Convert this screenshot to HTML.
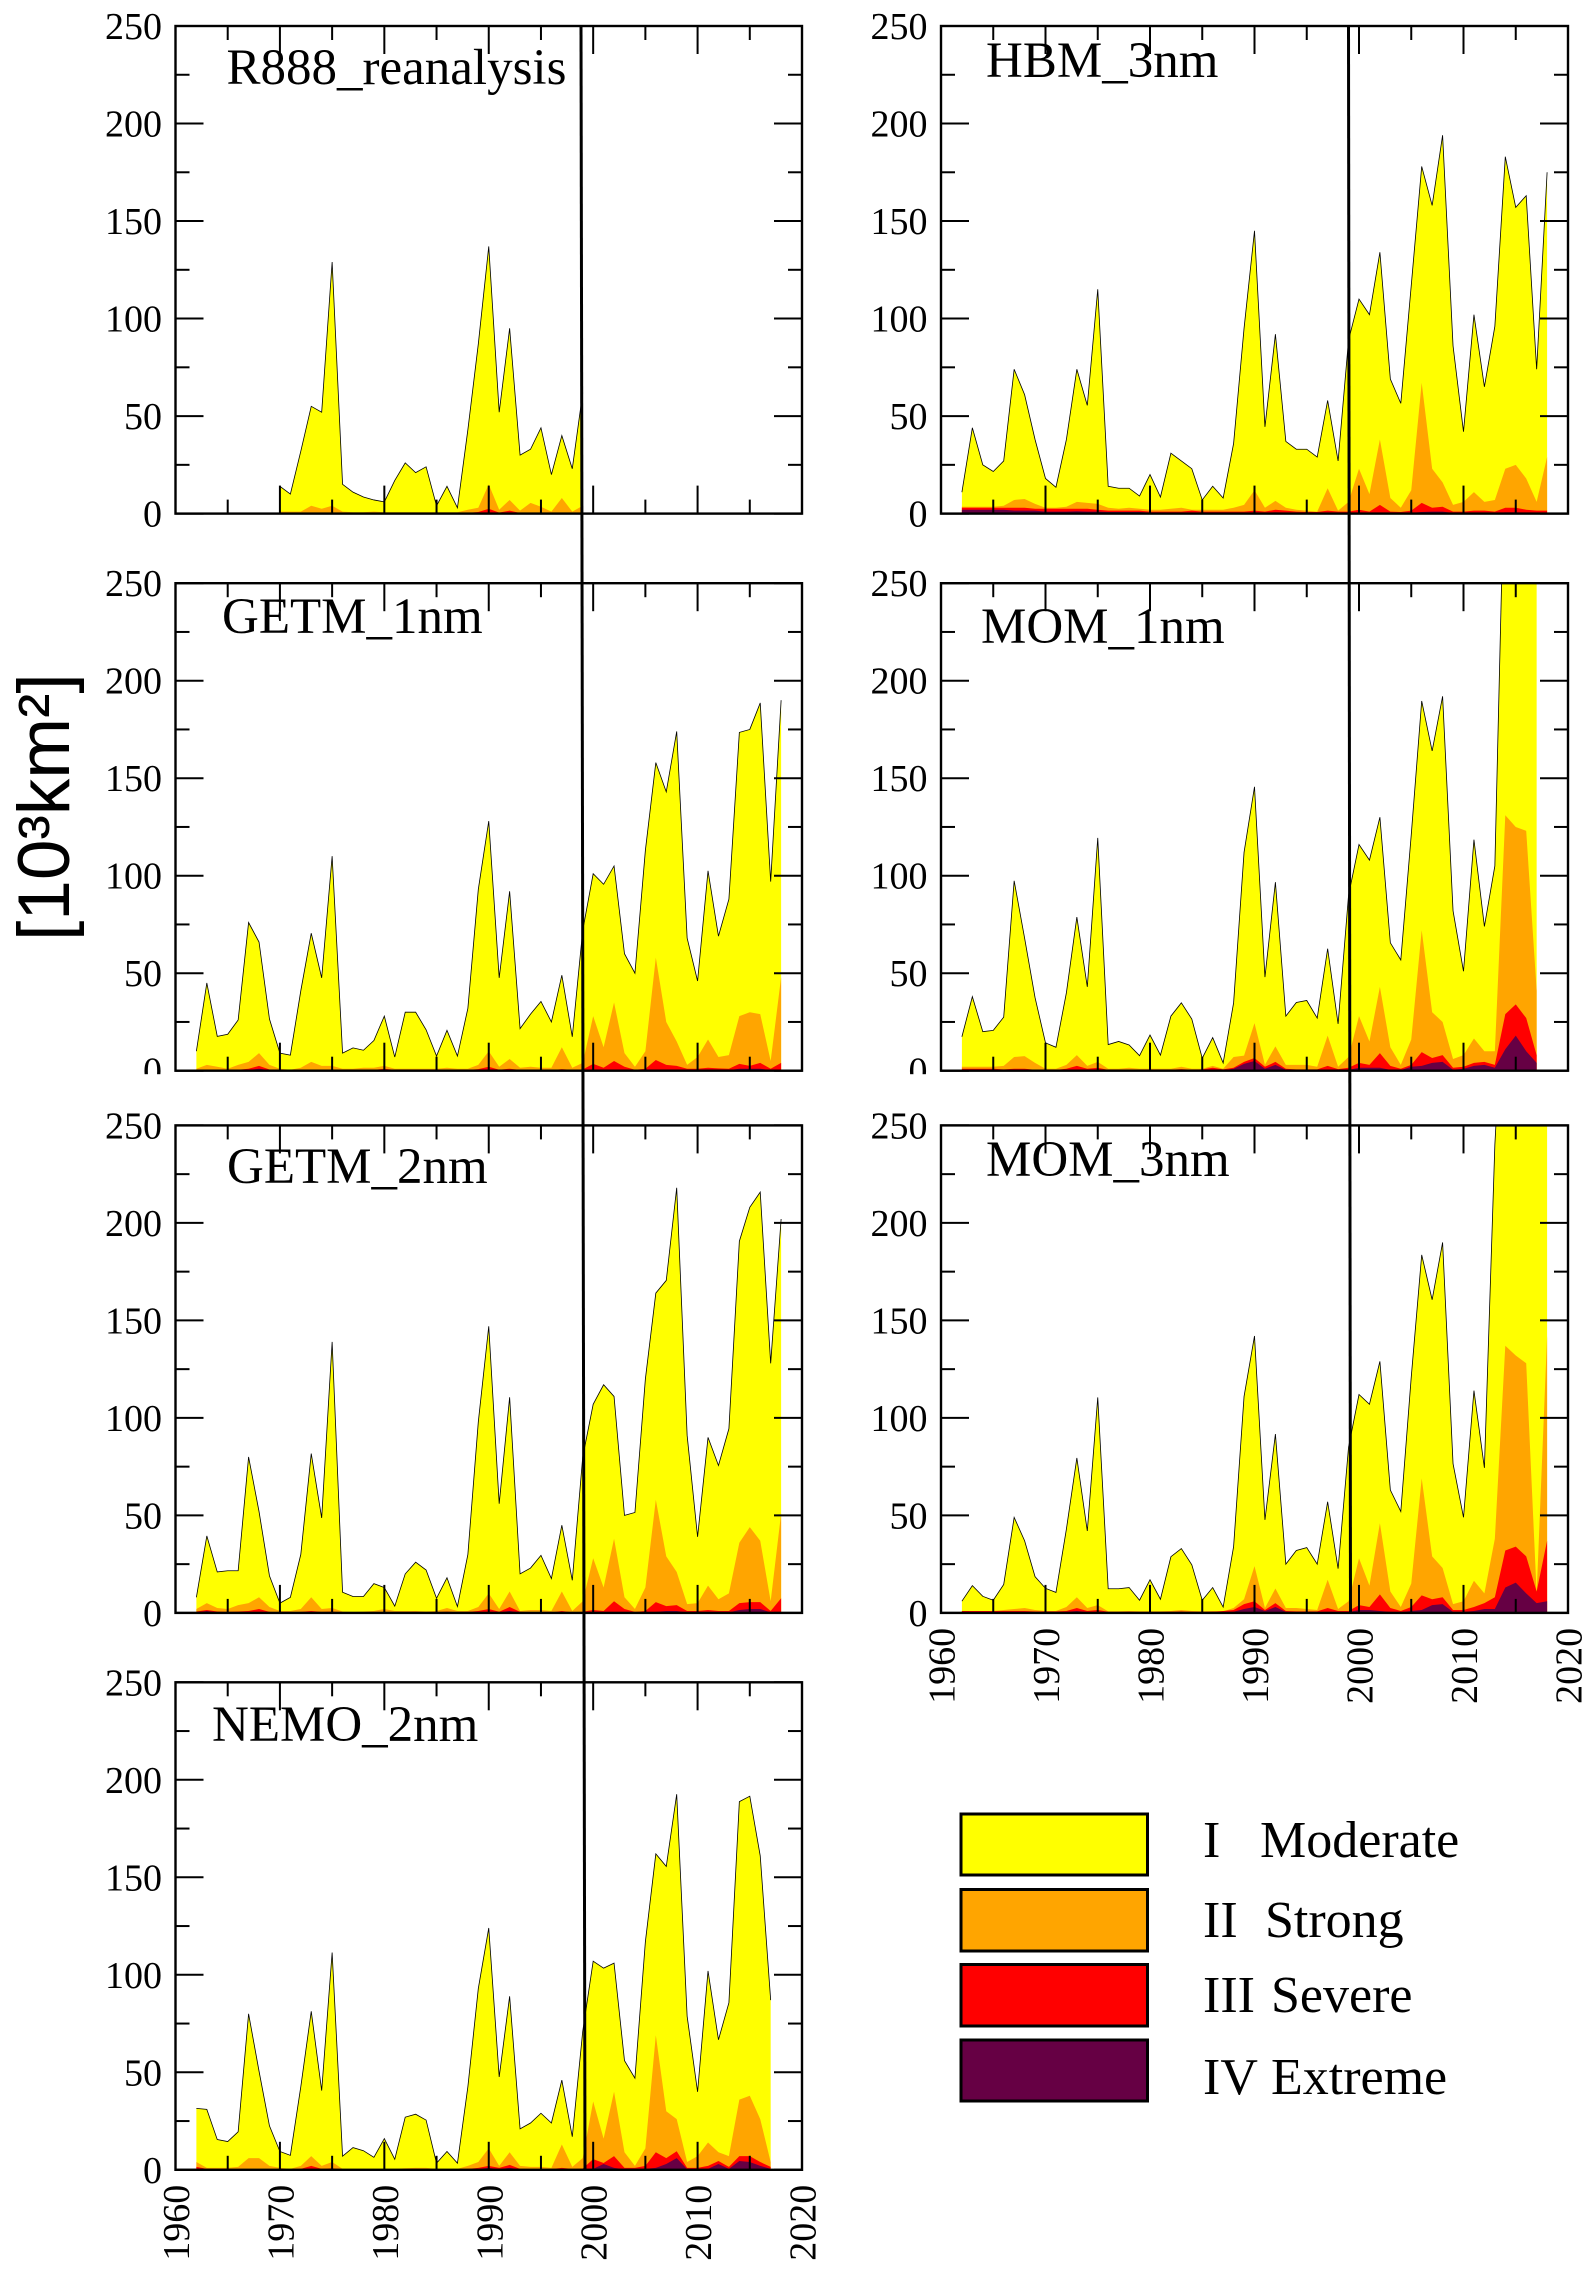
<!DOCTYPE html>
<html lang="en">
<head>
<meta charset="utf-8">
<title>Marine heatwave area by category</title>
<style>
  html, body { margin: 0; padding: 0; background: #fff; }
  svg { display: block; }
  text { font-family: "Liberation Serif", serif; fill: #000; }
</style>
</head>
<body>
<svg id="chart" xmlns="http://www.w3.org/2000/svg" width="1595" height="2274" viewBox="0 0 1595 2274">
  <rect x="0" y="0" width="1595" height="2274" fill="#ffffff"/>
  <g id="panels"></g>
  <text transform="translate(69 941) rotate(-90)" style="font-family:'Liberation Sans',sans-serif;font-size:73px">[10³km²]</text>
  <line x1="581" y1="26" x2="585" y2="2170" stroke="#000" stroke-width="3"/>
  <line x1="1348.5" y1="26" x2="1350.5" y2="1613" stroke="#000" stroke-width="3"/>
  <g>
    <g>
      <rect x="961" y="1814" width="186.5" height="61" fill="#ffff00" stroke="#000" stroke-width="3"/>
      <text y="1857" font-size="52"><tspan x="1203">I</tspan><tspan x="1260">Moderate</tspan></text>
    </g>
    <g>
      <rect x="961" y="1889.5" width="186.5" height="61.5" fill="#ffa500" stroke="#000" stroke-width="3"/>
      <text y="1937" font-size="52"><tspan x="1203">II</tspan><tspan x="1265">Strong</tspan></text>
    </g>
    <g>
      <rect x="961" y="1964.5" width="186.5" height="61.5" fill="#ff0000" stroke="#000" stroke-width="3"/>
      <text y="2012" font-size="52"><tspan x="1203">III</tspan><tspan x="1271">Severe</tspan></text>
    </g>
    <g>
      <rect x="961" y="2040" width="186.5" height="61" fill="#660044" stroke="#000" stroke-width="3"/>
      <text y="2094" font-size="52"><tspan x="1203">IV</tspan><tspan x="1271">Extreme</tspan></text>
    </g>
  </g>
</svg>
<script>
// Tick values
const yMajorTicks = [0, 50, 100, 150, 200, 250];
const yMinorTicks = [25, 75, 125, 175, 225];
const xMajorTicks = [1960, 1970, 1980, 1990, 2000, 2010, 2020];
const xMinorTicks = [1965, 1975, 1985, 1995, 2005, 2015];

// R888_reanalysis: 1970-1999
const r888Moderate = [
  14,10,32,55,52,129,15,11,8.5,7,
  6,17,26,21,24,4,14,3,43,87,
  137,52,95,30,33,44,20,40,23,62];
const r888Strong = [
  1,1,1,4,2.5,4,1,.7,.7,1,
  .7,.7,.7,.7,.7,.7,.7,.7,2,3,
  15,2,7,1.5,5.5,3.5,1,8,1,4];
const r888Severe = [
  .5,.3,.3,.3,.3,.5,.3,.3,.3,.3,
  .3,.3,.3,.3,.3,.3,.3,.3,.4,.8,
  2.5,.5,1.5,.3,.4,.3,.3,.4,.3,.3];
const r888Extreme = [
  0,0,0,0,0,0,0,0,0,0,
  0,0,0,0,0,0,0,0,0,0,
  .3,0,.2,0,0,0,0,0,0,0];

// HBM_3nm: 1962-2018
const hbmModerate = [
  11,44,25,21.6,27,74,61,38,
  18,13.5,38,74,55.5,115,14,13,13,9,
  20,8.5,31,27,23,7,14,8,36,95,
  145,44.5,92,37,33,33,29,58,27,89,
  110,102,134,69,56.5,117,178,158,194,86,
  42,102,65,96,183,157,163,74,175];
const hbmStrong = [
  3.5,3.5,3.5,3.5,4,7,7.5,5,
  3,3,3.5,6,5.5,5,3,2.5,3,2.5,
  2,2,2.5,3,2,2,2,2,3,4.5,
  12,3,6.5,3,2,1.5,1,13,1.5,6,
  23,10,38,8,3,12,67,23,16,4.5,
  6,11,6,7,23,25,18,6,29];
const hbmSevere = [
  3,3,3,3,3,3,3,2.5,
  2.5,2.5,2.5,2.5,2.5,2,1.5,1.5,1.5,1.5,
  1,1,1,1,1.5,1,1,1,1,1,
  1.5,1,2,1.5,1,.8,.8,1.5,1,1,
  2,1,4.5,1,.8,1.5,5.5,3,3.5,1,
  1,1.5,1.5,1,3,3,2,1.5,1.5];
const hbmExtreme = [
  2,2,2,2,2,1.5,1.5,1.5,
  1,1,1,1.2,1,1,.8,.8,.8,.8,
  .5,.5,.5,.5,.5,.5,.5,.5,.5,.5,
  .6,.5,.6,.5,.4,.3,.3,.4,.3,.3,
  .4,.3,.4,.3,.3,.4,.8,1,1,.3,
  .3,.4,.4,.3,.6,.6,.5,.3,.3];

// GETM_1nm: 1962-2018
const getm1Moderate = [
  10,45,17.6,18.7,26,76,66,26.5,
  9,8,41,70.5,47.6,110,9,11.7,10.5,15.5,
  28,7,30,30,21,7.5,20.7,7.5,32,93,
  128,47.6,92,21.6,29,35.5,25,49,17.4,72,
  101,95.6,105,60,50,113,158,143,174,68,
  46,102.5,69,88,173.5,175,188.6,97,190];
const getm1Strong = [
  1,3,2,1,3,4.5,9,3,
  1,.5,1.5,4.5,2.5,2.5,1,1,1.5,1.5,
  2.5,1,1,1,1,1,1.5,1,1,3,
  10,2,6,1.5,2,1.5,1.5,12,1.5,4,
  28,12,35,9,2,10,58,25,15,3,
  7,16,7,8,28,30,29,5,48];
const getm1Severe = [
  .5,.6,.5,.4,.5,1,2.5,.6,
  .3,.3,.3,.5,.3,.4,.3,.3,.3,.4,
  1,.4,.5,.5,.4,.3,.3,.3,.4,.8,
  2,.5,1,.4,.4,.3,.3,.8,.4,.6,
  3.5,1.5,5,2,.5,1,5.5,3,2.5,1,
  1,1.5,1.2,1,3.5,2.5,4,1,4];
const getm1Extreme = [
  .3,.3,.3,.3,.3,.4,1,.3,
  .2,.2,.2,.2,.2,.2,.2,.2,.2,.2,
  .2,.2,.2,.2,.2,.2,.2,.2,.2,.2,
  .4,.2,.2,.2,.2,.2,.2,.2,.2,.2,
  .4,.3,.4,.3,.2,.3,.5,.4,.4,.2,
  .2,.3,.3,.3,1,1,1,.3,.3];

// MOM_1nm: 1962-2017
const mom1Moderate = [
  17.4,38,20,20.7,27.5,97.4,68,37.5,
  14.3,12,40,78.8,43,119.4,13.4,15,13.2,7.7,
  18.3,8,28,34.8,26.5,6.4,17,4,34.8,112,
  145.6,48,96.7,28,35,36,27,62.6,24,90,
  116,108,130,65.6,56.8,121,189.6,164,192,82,
  51,118.5,74,105,330,320,300,290];
const mom1Strong = [
  2,2,2,2,2.5,7,7.5,4,
  1,1,3,8,2.5,4.5,1,1,1.5,1,
  1,1,1,2,1,1,2.5,1,7,7.7,
  24.4,3,12.5,3,3,3,2,18,2,7,
  28,15,43,12,3,16,72,30,25,6,
  8,16.5,10,10,131,125,123,41];
const mom1Severe = [
  1,1,1,1,.7,1,1,.5,
  .4,.4,1,2.5,1,1.5,.4,.6,.5,.4,
  .4,.4,.5,.8,.5,.7,1.5,.7,1.5,4.5,
  6.5,2,4.5,1,.7,.7,.7,2.5,.8,1.5,
  4,3,9,2.5,1,3,9.5,6.5,8,1.5,
  2,4,4.5,3,29,34,27,8];
const mom1Extreme = [
  .3,.3,.3,.3,.3,.3,.3,.3,
  .2,.2,.3,.5,.3,.4,.2,.2,.2,.2,
  .2,.2,.2,.3,.2,.2,.3,.2,1,3.5,
  5,1,3,.5,.3,.3,.3,.5,.3,.4,
  1.5,1.5,1.5,.4,.3,2,2.5,4,4.5,.5,
  1,2.5,3,1.5,11,18,10,4];

// GETM_2nm: 1962-2018
const getm2Moderate = [
  8,39.5,21,21.6,21.6,80,52,19,
  5,8,30,81.7,48.7,139,10.6,8.4,8.4,15,
  13,3.5,20,26,22,7.5,18,3.3,30,98,
  147,56,110.6,20,23,29.5,17.6,45,16.7,80,
  107,117,111,50,51.5,120,164,170.5,218,91,
  39,90,75.6,94.5,190.6,208,215.8,128,202];
const getm2Strong = [
  2,5,2.5,2,4,5,8,3,
  1,1,2,8,2,2.5,.7,.5,.7,1,
  2,1,1,1,.8,1,2.5,1,1,3,
  10,2,11,1,1.5,1.5,1,11,1,6,
  28,13,38,8,2,13,58,29,21,4.5,
  5,14,7,10,36,44,37,6,51];
const getm2Severe = [
  .7,1.5,.7,.5,.7,1,2,.5,
  .3,.3,.5,1,.5,.7,.3,.3,.3,.3,
  .5,.3,.4,.5,.3,.4,.7,.3,.5,1,
  2,.6,3,.5,.4,.3,.3,1,.3,.6,
  1.5,1,6,2,.5,1,5.5,3.5,4,1,
  1,1.5,1,1,5,5.5,5.5,1,7.5];
const getm2Extreme = [
  .3,1,.3,.3,.3,.3,.4,.2,
  .2,.2,.2,.2,.2,.2,.2,.2,.2,.2,
  .2,.2,.2,.2,.2,.2,.2,.2,.2,.3,
  .4,.3,1,.2,.2,.2,.2,.3,.2,.2,
  .3,.3,.4,.3,.2,.3,.5,1,1,.3,
  .2,.3,.3,.3,1.5,2,2,.3,.4];

// MOM_3nm: 1962-2018
const mom3Moderate = [
  6,14,8.5,6.5,14.6,49,37,18.6,
  12.6,10.5,43,79.5,42,110.5,12.4,12.4,13,6.5,
  17,7,28.8,33,24.7,6.5,13,3,34,111,
  142,47.7,91.7,25,32,33.5,25,57,22.7,85,
  112,107,129,63,52,121,183.6,160.6,190,76.5,
  49,114,74.4,240,340,330,320,300,290];
const mom3Strong = [
  1,1,1,1,1.5,2,2.5,1.5,
  1,1,3,8,2.5,4,.8,.8,1,.8,
  .8,.8,1,1.5,1,.8,1,.8,2.5,7,
  24,2.5,12.5,2.5,2.5,2,1.5,17,2,6,
  28,14,46,11,3,15,69,29,23,4.5,
  6,16.5,10,38,137,132,128,10,142];
const mom3Severe = [
  1,1,1,1,1,1,1,.8,
  .8,.8,1,2.5,1,1.5,.6,.6,.6,.6,
  .6,.6,.6,.8,.6,.6,.6,1,1.5,4.5,
  6,1.5,5,1,.8,.8,.8,2.5,1,1,
  4,3,9.5,2.5,1,3,9,7,8,1.5,
  1.5,3,5,8,32,34,29,11,37];
const mom3Extreme = [
  .4,.4,.4,.4,.4,.4,.4,.4,
  .4,.4,.5,1,.4,.5,.4,.4,.4,.4,
  .4,.4,.4,.5,.4,.4,.4,.4,.6,2,
  3,1,3,.5,.4,.4,.4,.5,.4,.4,
  1.5,1.5,1,.5,.4,1,1.5,4,4.5,.5,
  .5,1,2,2,13,15.5,10,5,6];

// NEMO_2nm: 1962-2017
const nemoModerate = [
  31.5,31,15.5,14.5,19.5,80,50.6,22.5,
  9.4,7.4,42.6,81.3,40.6,111.4,7,11.4,9.8,6.4,
  16,5.4,27,28.5,25.5,3.4,9.4,3.4,42.6,93,
  124,47.6,89,21,24,29,24,46,17,71,
  107,103.4,106,56,47,117,162,155.6,192.6,78.7,
  40,102,66.7,85.7,188.8,191.6,161,87];
const nemoStrong = [
  4,1,1,1,1.5,6,6,2,
  1,.5,2,7,2,4,.5,.5,.5,.5,
  .5,.5,.8,1,1,.5,.5,.5,2,4,
  11,2,9,2,1.5,1.5,1,13,1.5,6,
  35,16,40,9,2,11,69,30,26,4,
  7,14,9,7,36,38,26,4];
const nemoSevere = [
  1.5,.5,.4,.4,.4,.4,.4,.4,
  .3,.3,.5,2,.5,.8,.3,.3,.3,.3,
  .3,.3,.4,.5,.4,.3,.3,.3,.5,1,
  2,1,2.5,.5,.4,.4,.4,1,.5,.7,
  5.5,3.5,7,1,1,2,9,6,9.5,1,
  1,2,4.5,1.5,7,7,4,1.5];
const nemoExtreme = [
  .3,.3,.3,.3,.3,.3,.3,.3,
  .2,.2,.2,.5,.2,.2,.2,.2,.2,.2,
  .2,.2,.2,.3,.2,.2,.2,.2,.2,.5,
  1,.3,1,.2,.2,.2,.2,.3,.2,.2,
  .5,3,1,.3,.3,.5,1,3,6,.3,
  .3,.5,3,.5,4.5,4,2,.5];

const svgNS = 'http://www.w3.org/2000/svg';
const layerColors = ['#ffff00', '#ffa500', '#ff0000', '#660044'];
const layerNames = ['moderate', 'strong', 'severe', 'extreme'];

function node(tag, parent) {
  const el = document.createElementNS(svgNS, tag);
  parent.appendChild(el);
  return el;
}

function drawPanel(p) {
  const root = document.getElementById('panels');
  const g = node('g', root);
  
  

  const xScale = v => p.left + (v - 1960) * (p.right - p.left) / 60;
  const yScale = v => p.bottom - v * (p.bottom - p.top) / 250;

  const clip = node('clipPath', g);
  clip.setAttribute('id', 'clip-' + p.slug);
  const clipRect = node('rect', clip);
  clipRect.setAttribute('x', p.left);
  clipRect.setAttribute('y', p.top);
  clipRect.setAttribute('width', p.right - p.left);
  clipRect.setAttribute('height', p.bottom - p.top);

  const marks = node('g', g);
  marks.setAttribute('clip-path', 'url(#clip-' + p.slug + ')');
  
  

  p.series.forEach((values, i) => {
    const pts = values.map((v, k) => xScale(p.startYear + k).toFixed(2) + ',' + yScale(v).toFixed(2));
    const x0 = xScale(p.startYear).toFixed(2);
    const x1 = xScale(p.startYear + values.length - 1).toFixed(2);
    const base = yScale(0).toFixed(2);
    const area = node('polygon', marks);
    
    
    area.setAttribute('points', x0 + ',' + base + ' ' + pts.join(' ') + ' ' + x1 + ',' + base);
    area.setAttribute('fill', layerColors[i]);
    if (i === 0) {
      const outline = node('polyline', marks);
      
      
      outline.setAttribute('points', pts.join(' '));
      outline.setAttribute('fill', 'none');
      outline.setAttribute('stroke', '#000');
      outline.setAttribute('stroke-width', '0.8');
    }
  });

  const tick = (x1, y1, x2, y2, name) => {
    const t = node('line', g);
    
    
    t.setAttribute('x1', x1);
    t.setAttribute('y1', y1);
    t.setAttribute('x2', x2);
    t.setAttribute('y2', y2);
    t.setAttribute('stroke', '#000');
    t.setAttribute('stroke-width', '2');
  };
  yMajorTicks.forEach(v => {
    const y = yScale(v);
    tick(p.left, y, p.left + 28, y, 'y-major-tick');
    tick(p.right, y, p.right - 28, y, 'y-major-tick');
    const label = node('text', g);
    
    
    label.setAttribute('x', p.left - 13.5);
    label.setAttribute('y', y + 13);
    label.setAttribute('text-anchor', 'end');
    label.setAttribute('font-size', '38');
    label.textContent = v;
  });
  yMinorTicks.forEach(v => {
    const y = yScale(v);
    tick(p.left, y, p.left + 14, y, 'y-minor-tick');
    tick(p.right, y, p.right - 14, y, 'y-minor-tick');
  });
  xMajorTicks.forEach(v => {
    const x = xScale(v);
    tick(x, p.bottom, x, p.bottom - 28, 'x-major-tick');
    tick(x, p.top, x, p.top + 28, 'x-major-tick');
    if (p.xLabels) {
      const label = node('text', g);
      
      
      label.setAttribute('transform', 'translate(' + (x + 13.5) + ' ' + (p.bottom + 15) + ') rotate(-90)');
      label.setAttribute('text-anchor', 'end');
      label.setAttribute('font-size', '38');
      label.textContent = v;
    }
  });
  xMinorTicks.forEach(v => {
    const x = xScale(v);
    tick(x, p.bottom, x, p.bottom - 14, 'x-minor-tick');
    tick(x, p.top, x, p.top + 14, 'x-minor-tick');
  });

  const frame = node('rect', g);
  
  
  frame.setAttribute('x', p.left);
  frame.setAttribute('y', p.top);
  frame.setAttribute('width', p.right - p.left);
  frame.setAttribute('height', p.bottom - p.top);
  frame.setAttribute('fill', 'none');
  frame.setAttribute('stroke', '#000');
  frame.setAttribute('stroke-width', '2.4');

  if (p.maskZero) {
    const mask = node('rect', g);
    
    
    mask.setAttribute('x', p.left - 60);
    mask.setAttribute('y', p.bottom + 3.5);
    mask.setAttribute('width', 58);
    mask.setAttribute('height', 14);
    mask.setAttribute('fill', '#fff');
  }

  const title = node('text', g);
  
  
  title.setAttribute('x', p.titleX);
  title.setAttribute('y', p.titleY);
  title.setAttribute('font-size', '51');
  title.textContent = p.title;
}

drawPanel({ slug: 'r888', title: 'R888_reanalysis', left: 175.5, right: 802, top: 26, bottom: 513.6, titleX: 226.5, titleY: 84,
  startYear: 1970, series: [r888Moderate, r888Strong, r888Severe, r888Extreme] });
drawPanel({ slug: 'hbm-3nm', title: 'HBM_3nm', left: 941, right: 1568, top: 26, bottom: 513.6, titleX: 986, titleY: 77,
  startYear: 1962, series: [hbmModerate, hbmStrong, hbmSevere, hbmExtreme] });
drawPanel({ slug: 'getm-1nm', title: 'GETM_1nm', left: 175.5, right: 802, top: 583.2, bottom: 1070.7, titleX: 222, titleY: 633, maskZero: true,
  startYear: 1962, series: [getm1Moderate, getm1Strong, getm1Severe, getm1Extreme] });
drawPanel({ slug: 'mom-1nm', title: 'MOM_1nm', left: 941, right: 1568, top: 583.2, bottom: 1070.7, titleX: 981, titleY: 643, maskZero: true,
  startYear: 1962, series: [mom1Moderate, mom1Strong, mom1Severe, mom1Extreme] });
drawPanel({ slug: 'getm-2nm', title: 'GETM_2nm', left: 175.5, right: 802, top: 1125.4, bottom: 1612.9, titleX: 227, titleY: 1183,
  startYear: 1962, series: [getm2Moderate, getm2Strong, getm2Severe, getm2Extreme] });
drawPanel({ slug: 'mom-3nm', title: 'MOM_3nm', left: 941, right: 1568, top: 1125.4, bottom: 1612.9, titleX: 986, titleY: 1176, xLabels: true,
  startYear: 1962, series: [mom3Moderate, mom3Strong, mom3Severe, mom3Extreme] });
drawPanel({ slug: 'nemo-2nm', title: 'NEMO_2nm', left: 175.5, right: 802, top: 1682.3, bottom: 2169.8, titleX: 212, titleY: 1741, xLabels: true,
  startYear: 1962, series: [nemoModerate, nemoStrong, nemoSevere, nemoExtreme] });
</script>
</body>
</html>
